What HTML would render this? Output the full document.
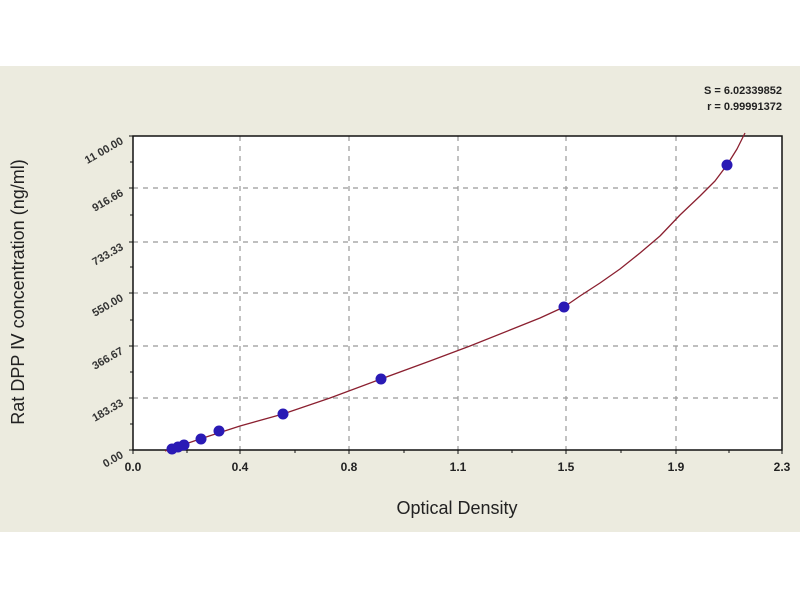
<!DOCTYPE html>
<html><head><style>
body{margin:0;width:800px;height:600px;background:#fff;overflow:hidden}
</style></head><body>
<svg width="800" height="600" xmlns="http://www.w3.org/2000/svg" font-family="Liberation Sans, sans-serif">
<rect x="0" y="66" width="800" height="466" fill="#ecebdf"/>
<rect x="133" y="136" width="649" height="314" fill="#fff"/>
<g stroke="#999" stroke-width="1.2" stroke-dasharray="5,5">
<line x1="240" y1="136" x2="240" y2="450"/><line x1="349" y1="136" x2="349" y2="450"/>
<line x1="458" y1="136" x2="458" y2="450"/><line x1="566" y1="136" x2="566" y2="450"/>
<line x1="676" y1="136" x2="676" y2="450"/>
<line x1="133" y1="188" x2="782" y2="188"/><line x1="133" y1="242" x2="782" y2="242"/>
<line x1="133" y1="293" x2="782" y2="293"/><line x1="133" y1="346" x2="782" y2="346"/>
<line x1="133" y1="398" x2="782" y2="398"/>
</g>
<rect x="133" y="136" width="649" height="314" fill="none" stroke="#111" stroke-width="1.5"/>
<g stroke="#111" stroke-width="1">
<path d="M133 136h-4M133 162h-3M133 188h-4M133 215h-3M133 242h-4M133 267h-3M133 293h-4M133 320h-3M133 346h-4M133 372h-3M133 398h-4M133 424h-3M133 450h-4"/>
<path d="M133 450v4M187 450v3M240 450v4M295 450v3M349 450v4M404 450v3M458 450v4M512 450v3M566 450v4M621 450v3M676 450v4M729 450v3M782 450v4"/>
</g>
<path d="M165 451 L200 439 L240 426 L283 414 L330 398 L381 379 L430 361 L470 346 L510 330 L540 318 L564 307 L580 296 L600 283 L620 269 L640 253 L660 236 L680 215 L700 196 L715 181 L727 165 L737 149 L745 133" fill="none" stroke="#8b2030" stroke-width="1.3" stroke-linejoin="round"/>
<g fill="#2a1ab5">
<circle cx="172" cy="449" r="5.5"/><circle cx="178" cy="447" r="5.5"/><circle cx="184" cy="445" r="5.5"/>
<circle cx="201" cy="439" r="5.5"/><circle cx="219" cy="431" r="5.5"/><circle cx="283" cy="414" r="5.5"/>
<circle cx="381" cy="379" r="5.5"/><circle cx="564" cy="307" r="5.5"/><circle cx="727" cy="165" r="5.5"/>
</g>
<g font-size="12" font-weight="bold" fill="#222" text-anchor="middle">
<text x="133" y="471">0.0</text><text x="240" y="471">0.4</text><text x="349" y="471">0.8</text>
<text x="458" y="471">1.1</text><text x="566" y="471">1.5</text><text x="676" y="471">1.9</text><text x="782" y="471">2.3</text>
</g>
<g font-size="11" font-weight="bold" fill="#333" text-anchor="end">
<text transform="translate(124,143) rotate(-30)">11 00.00</text>
<text transform="translate(124,195) rotate(-30)">916.66</text>
<text transform="translate(124,249) rotate(-30)">733.33</text>
<text transform="translate(124,300) rotate(-30)">550.00</text>
<text transform="translate(124,353) rotate(-30)">366.67</text>
<text transform="translate(124,405) rotate(-30)">183.33</text>
<text transform="translate(124,457) rotate(-30)">0.00</text>
</g>
<g font-size="11" font-weight="bold" fill="#222" text-anchor="end">
<text x="782" y="94">S = 6.02339852</text><text x="782" y="110">r = 0.99991372</text>
</g>
<text x="457" y="514" font-size="18" text-anchor="middle" fill="#222">Optical Density</text>
<text transform="translate(24,292) rotate(-90)" font-size="18" text-anchor="middle" fill="#222">Rat DPP Ⅳ concentration (ng/ml)</text>
</svg>
</body></html>
